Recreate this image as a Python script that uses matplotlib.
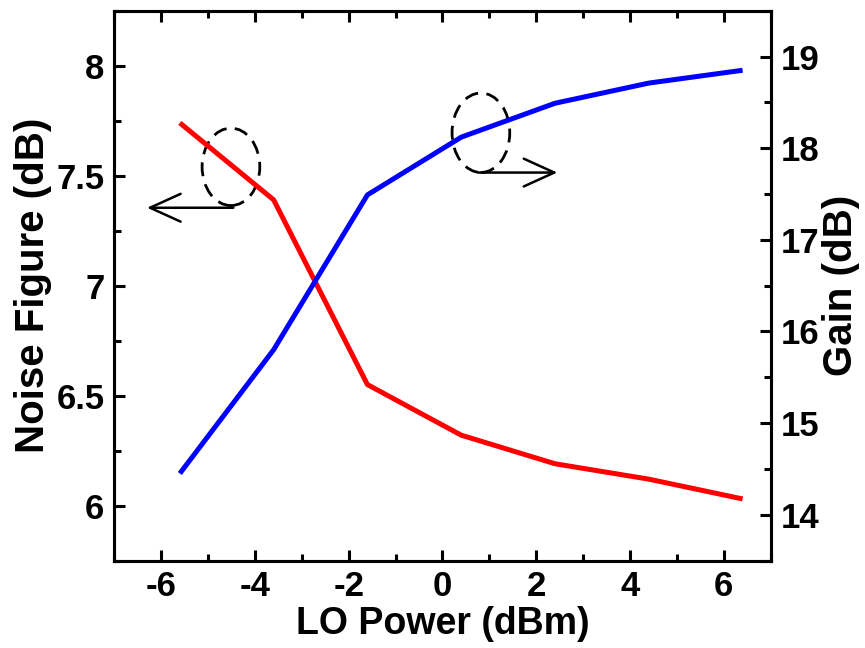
import numpy as np
import matplotlib.pyplot as plt
from matplotlib.patches import Ellipse

plt.rcParams['font.family'] = ['Liberation Sans', 'DejaVu Sans']
plt.rcParams['font.weight'] = 'bold'
plt.rcParams['axes.unicode_minus'] = False

# data
lo_power = [-5.6, -3.6, -1.6, 0.4, 2.4, 4.4, 6.4]
noise_figure = [7.74, 7.39, 6.55, 6.32, 6.19, 6.12, 6.03]
gain = [14.45, 15.80, 17.49, 18.12, 18.49, 18.71, 18.85]

fs = 25

fig = plt.figure(figsize=(8.65, 6.48), dpi=100)
ax = fig.add_axes([0.132, 0.135, 0.759, 0.8485])
ax2 = ax.twinx()

ax.plot(lo_power, noise_figure, color='#ff0000', lw=3.6, solid_capstyle='butt')
ax2.plot(lo_power, gain, color='#0000ff', lw=3.6, solid_capstyle='butt')

ax.set_xlim(-7, 7)
ax.set_ylim(5.75, 8.25)
ax2.set_ylim(13.5, 19.5)

ax.set_xticks([-6, -4, -2, 0, 2, 4, 6])
ax.set_xticks(np.arange(-7, 7.1, 1), minor=True)
ax.set_yticks([6, 6.5, 7, 7.5, 8])
ax.set_yticklabels(['6', '6.5', '7', '7.5', '8'])
ax.set_yticks(np.arange(5.75, 8.26, 0.25), minor=True)
ax2.set_yticks([14, 15, 16, 17, 18, 19])
ax2.set_yticks(np.arange(13.5, 19.6, 0.5), minor=True)

for a in (ax, ax2):
    for s in a.spines.values():
        s.set_linewidth(2.2)
ax.tick_params(which='both', direction='in', top=True, right=False, width=2.2, labelsize=fs, pad=7)
ax.tick_params(which='major', length=8)
ax.tick_params(which='minor', length=5)
ax2.tick_params(which='both', direction='in', width=2.2, labelsize=fs, pad=7)
ax2.tick_params(which='major', length=8)
ax2.tick_params(which='minor', length=5)

ax.set_xlabel('LO Power (dBm)', fontsize=27, fontweight='bold', labelpad=2)
ax.set_ylabel('Noise Figure (dB)', fontsize=29, fontweight='bold', labelpad=3)
ax2.set_ylabel('Gain (dB)', fontsize=29, fontweight='bold', rotation=90, labelpad=2)

# dashed ellipses with arrows pointing to each axis
ax.add_patch(Ellipse((-4.51, 7.54), 1.23, 0.352, fill=False, ls=(0, (5, 3)), lw=2.0, color='black'))
ax.annotate('', xy=(-6.30, 7.354), xytext=(-4.46, 7.354),
            arrowprops=dict(arrowstyle='->, head_length=1.1, head_width=0.5', lw=1.8,
                            color='black', shrinkA=0, shrinkB=0, mutation_scale=20))
ax.add_patch(Ellipse((0.82, 7.695), 1.23, 0.361, fill=False, ls=(0, (5, 3)), lw=2.0, color='black'))
ax.annotate('', xy=(2.45, 7.514), xytext=(0.77, 7.514),
            arrowprops=dict(arrowstyle='->, head_length=1.1, head_width=0.5', lw=1.8,
                            color='black', shrinkA=0, shrinkB=0, mutation_scale=20))

fig.savefig('out.png', dpi=100)
